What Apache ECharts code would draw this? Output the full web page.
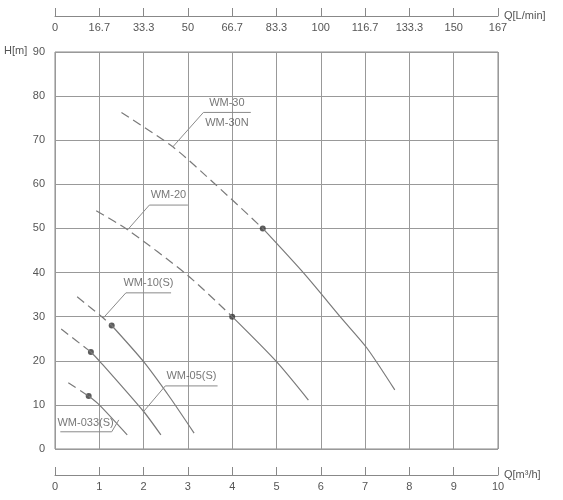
<!DOCTYPE html>
<html>
<head>
<meta charset="utf-8">
<script src="https://cdn.jsdelivr.net/npm/echarts@6/dist/echarts.min.js"></script>
<style>html,body{margin:0;padding:0;background:#fff}#chart{width:563px;height:500px}</style>
</head>
<body>
<div id="chart"></div>
<script>
// 流量刻度（上：L/min，下：m³/h）
const flowTicks = ['0', '1', '2', '3', '4', '5', '6', '7', '8', '9', '10'];
const flowTicksLpm = ['0', '16.7', '33.3', '50', '66.7', '83.3', '100', '116.7', '133.3', '150', '167'];

// 各型号曲线：虚线段到工作点，实线段从工作点开始
const wm30Dash = [[1.5, 76.3], [2.66, 68.5], [3.63, 59.9], [4.69, 50]];
const wm30Solid = [[4.69, 50], [5.62, 39.8], [6.47, 29.6], [7.04, 22.9], [7.67, 13.4]];
const wm20Dash = [[0.93, 54], [1.64, 49.7], [2.98, 39.5], [4, 30]];
const wm20Solid = [[4, 30], [5, 19.8], [5.72, 11.1]];
const wm10Dash = [[0.5, 34.5], [1.09, 29.7], [1.28, 28]];
const wm10Solid = [[1.28, 28], [2.0, 19.8], [2.58, 11.9], [3.14, 3.6]];
const wm05Dash = [[0.14, 27.2], [0.81, 22]];
const wm05Solid = [[0.81, 22], [1.0, 20], [2.0, 8.5], [2.39, 3.2]];
const wm033Dash = [[0.3, 15], [0.76, 12]];
const wm033Solid = [[0.76, 12], [1.0, 10], [1.63, 3.2]];

// 工作点
const dutyPoints = [[4.69, 50], [4, 30], [1.28, 28], [0.81, 22], [0.76, 12]];

// 标注引线与文字
const leaders = [
    [[2.66, 68.5], [3.35, 76.3], [4.42, 76.3]],
    [[1.64, 49.7], [2.13, 55.3], [3.0, 55.3]],
    [[1.09, 29.7], [1.6, 35.4], [2.62, 35.4]],
    [[2.0, 8.5], [2.49, 14.3], [3.67, 14.3]],
    [[0.12, 3.9], [1.28, 3.9], [1.44, 6.6]]
];
const labelTexts = [
    { value: [3.88, 78.4], name: 'WM-30' },
    { value: [3.88, 74.0], name: 'WM-30N' },
    { value: [2.56, 57.5], name: 'WM-20' },
    { value: [2.11, 37.6], name: 'WM-10(S)' },
    { value: [3.08, 16.5], name: 'WM-05(S)' },
    { value: [0.69, 6.0], name: 'WM-033(S)' }
];

const chart = echarts.init(document.getElementById('chart'));
const lineColor = '#7a7a7a';
const textColor = '#555';
const font = 'Liberation Sans Narrow, Liberation Sans, sans-serif';

function curve(data, dashed) {
    return {
        type: 'line', data: data, smooth: 0.25, symbol: 'none', silent: true,
        lineStyle: { color: lineColor, width: 1.2, type: dashed ? [9, 5] : 'solid' }
    };
}

const series = [
    curve(wm30Dash, true), curve(wm30Solid, false),
    curve(wm20Dash, true), curve(wm20Solid, false),
    curve(wm10Dash, true), curve(wm10Solid, false),
    curve(wm05Dash, true), curve(wm05Solid, false),
    curve(wm033Dash, true), curve(wm033Solid, false)
];
leaders.forEach(function (l) {
    series.push({
        type: 'line', data: l, symbol: 'none', silent: true,
        lineStyle: { color: '#8a8a8a', width: 1 }
    });
});
series.push({
    type: 'scatter', data: dutyPoints, symbolSize: 6, silent: true,
    itemStyle: { color: '#333' }
});
series.push({
    type: 'scatter', data: labelTexts, symbolSize: 0, silent: true,
    label: {
        show: true, position: 'inside', formatter: '{b}',
        color: textColor, fontSize: 11, fontFamily: font
    }
});

const option = {
    backgroundColor: '#fff',
    animation: false,
    grid: { left: 55, right: 65, top: 52, bottom: 51, show: true, borderColor: '#888', borderWidth: 1 },
    graphic: [{
        type: 'text', left: 4, top: 45,
        style: { text: 'H[m]', fill: textColor, fontSize: 11, fontFamily: font }
    }],
    xAxis: [{
        type: 'value', min: 0, max: 10, interval: 1, position: 'bottom',
        axisLine: { show: false }, axisTick: { show: false }, axisLabel: { show: false },
        splitLine: { show: true, lineStyle: { color: '#999', width: 1 } }
    }, {
        type: 'value', min: 0, max: 10, interval: 1, position: 'bottom', offset: 26,
        name: 'Q[m³/h]', nameLocation: 'end', nameGap: 6,
        nameTextStyle: { color: textColor, fontSize: 11, fontFamily: font, padding: [0, 0, -24, 0] },
        axisLine: { show: true, lineStyle: { color: '#888' } },
        axisTick: { show: true, inside: true, length: 8, lineStyle: { color: '#888' } },
        axisLabel: { color: textColor, fontSize: 11, fontFamily: font, margin: 6,
            formatter: function (v) { return flowTicks[Math.round(v)]; } },
        splitLine: { show: false }
    }, {
        type: 'value', min: 0, max: 10, interval: 1, position: 'top', offset: 36,
        name: 'Q[L/min]', nameLocation: 'end', nameGap: 6,
        nameTextStyle: { color: textColor, fontSize: 11, fontFamily: font, padding: [0, 0, -24, 0] },
        axisLine: { show: true, lineStyle: { color: '#888' } },
        axisTick: { show: true, inside: false, length: 8, lineStyle: { color: '#888' } },
        axisLabel: { inside: true, color: textColor, fontSize: 11, fontFamily: font, margin: 6,
            formatter: function (v) { return flowTicksLpm[Math.round(v)]; } },
        splitLine: { show: false }
    }],
    yAxis: {
        type: 'value', min: 0, max: 90, interval: 10,
        axisLine: { show: false }, axisTick: { show: false },
        axisLabel: { color: textColor, fontSize: 11, fontFamily: font, margin: 10 },
        splitLine: { show: true, lineStyle: { color: '#999', width: 1 } }
    },
    series: series
};
chart.setOption(option);
</script>
</body>
</html>
